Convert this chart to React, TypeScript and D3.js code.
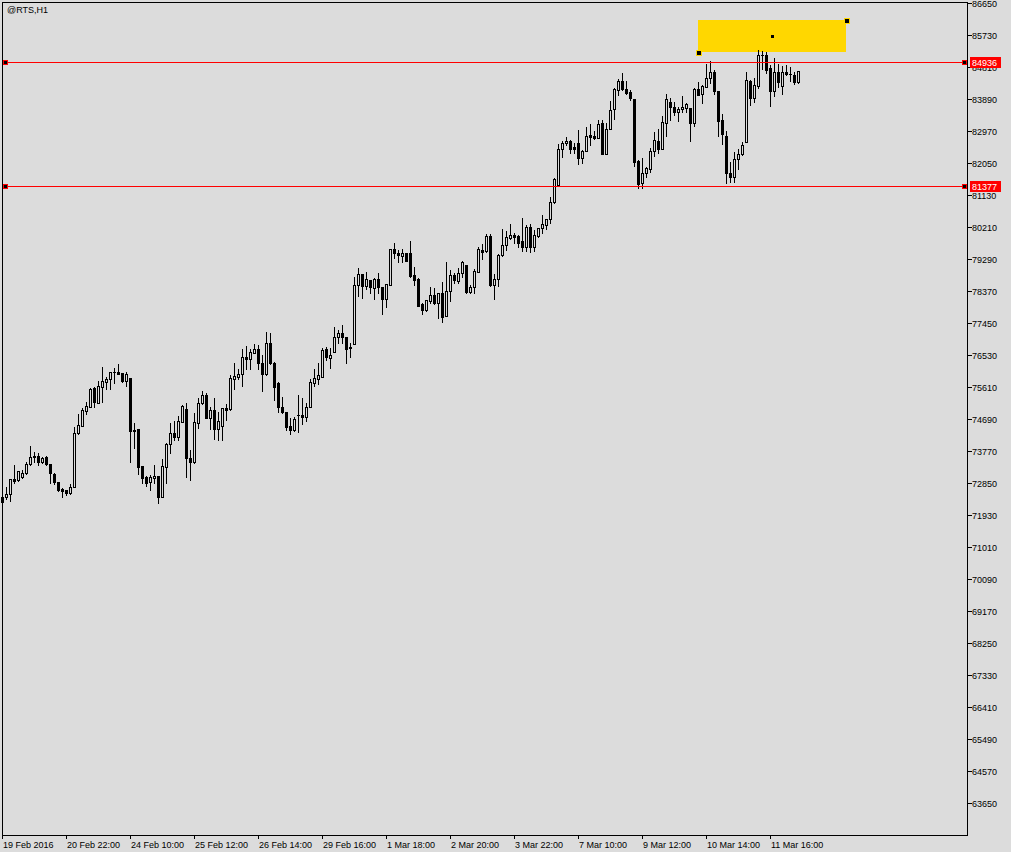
import React from "react";
import * as d3 from "d3";

const symbol = "@RTS,H1";

// hourly bars
const opens = [
  72447, 72447, 72534, 72965, 72936, 73022, 73137, 73396, 73626, 73626,
  73454, 73597, 73396, 73109, 72879, 72677, 72649, 72562, 72735, 74287,
  74489, 74920, 75035, 75581, 75150, 75610, 75754, 75840, 76041, 76041,
  76012, 75782, 75869, 74374, 74402, 73339, 73022, 72879, 72994, 73051,
  72447, 73310, 73971, 74287, 74172, 74604, 74977, 73569, 73454, 74575,
  75150, 75380, 74719, 74949, 74402, 74489, 75006, 74977, 75840, 75897,
  75984, 76472, 76415, 76587, 76702, 76300, 75984, 76875, 76300, 75725,
  75035, 74891, 74489, 74374, 74805, 74805, 74747, 75035, 75725, 75840,
  75897, 76702, 76444, 76616, 77048, 77162, 77048, 76760, 76846, 78542,
  78859, 78513, 78686, 78456, 78715, 78484, 78140, 78542, 79577, 79462,
  79376, 79462, 79462, 78830, 78715, 77996, 77824, 78082, 78255, 78025,
  78312, 77651, 78370, 78830, 78657, 78887, 79117, 78341, 78484, 78916,
  79549, 79520, 79951, 78542, 78715, 79405, 79692, 79894, 79980, 79951,
  79807, 79635, 80210, 79635, 79951, 80181, 80267, 80440, 80929, 81417,
  82452, 82625, 82682, 82510, 82625, 82193, 82395, 82855, 82826, 82768,
  83200, 82309, 83027, 83602, 84149, 84407, 84177, 84091, 83890, 82107,
  81475, 81762, 81877, 82395, 82682, 82452, 83200, 83804, 83660, 83516,
  83602, 83631, 83631, 83200, 84177, 84034, 84235, 84494, 84666, 84120,
  83286, 82826, 81762, 81647, 82165, 82309, 82654, 84407, 83919, 84264,
  85155, 85155, 84781, 84120, 84666, 84264, 84666, 84609, 84580, 84379,
];
const highs = [
  72505, 72735, 72965, 73367, 73195, 73224, 73454, 73914, 73741, 73712,
  73597, 73626, 73396, 73137, 72879, 72706, 72649, 72821, 74460, 74834,
  75006, 75179, 75581, 75610, 75782, 76185, 75897, 76041, 76156, 76271,
  76012, 76041, 75869, 74575, 74402, 73339, 73051, 73080, 73367, 73051,
  73540, 73999, 74575, 74632, 74776, 75092, 75150, 73799, 74862, 75294,
  75495, 75437, 75035, 75294, 74891, 75006, 75121, 75955, 76300, 76127,
  76702, 76789, 76702, 76846, 76817, 76530, 77191, 77162, 76329, 75754,
  75323, 74891, 74719, 74747, 75380, 75294, 75150, 75840, 76127, 76300,
  76731, 76760, 76731, 77335, 77249, 77392, 77048, 76875, 78772, 79031,
  78859, 78916, 78686, 78744, 78887, 78484, 78571, 79577, 79750, 79549,
  79577, 79462, 79807, 79060, 78744, 78025, 78111, 78484, 78456, 78312,
  78629, 79203, 78974, 78887, 79031, 79232, 79117, 78542, 79002, 79635,
  79721, 80008, 80008, 78859, 79433, 80152, 80095, 80296, 80037, 79980,
  80469, 80267, 80296, 80124, 80181, 80555, 80440, 81072, 81619, 82596,
  82682, 82797, 82711, 82625, 82999, 82424, 83085, 83171, 82970, 83286,
  83286, 83200, 83832, 84206, 84465, 84637, 84407, 84149, 83890, 82136,
  82193, 81935, 82481, 82941, 83027, 83401, 84034, 83919, 83804, 83660,
  83976, 83775, 83631, 84206, 84379, 84292, 84896, 84982, 84724, 84120,
  83459, 82970, 82079, 82366, 82452, 82654, 84666, 84436, 84494, 85299,
  85270, 85241, 84867, 85068, 84896, 84839, 84867, 84810, 84666, 84695,
];
const lows = [
  72246, 72390, 72332, 72850, 72907, 72994, 73109, 73367, 73454, 73367,
  73425, 73367, 72850, 72821, 72620, 72447, 72505, 72534, 72735, 74259,
  74489, 74834, 75035, 75035, 75150, 75179, 75552, 75552, 75725, 75984,
  75754, 75639, 73454, 73856, 73109, 72850, 72764, 72649, 72850, 72275,
  72447, 72850, 73712, 74086, 74086, 74604, 73022, 72936, 73425, 74431,
  75121, 74719, 74402, 74115, 74086, 74086, 74661, 74949, 75552, 75840,
  75639, 76127, 76127, 76587, 76127, 75495, 75955, 76271, 75236, 74891,
  74862, 74374, 74259, 74345, 74316, 74546, 74632, 75035, 75639, 75696,
  75897, 76386, 76156, 76616, 76875, 76875, 76300, 76472, 76846, 78226,
  78169, 78427, 78312, 78140, 78312, 77708, 77910, 78542, 79318, 79203,
  79203, 79232, 78772, 78542, 77939, 77708, 77795, 78025, 77996, 77594,
  77479, 77651, 78082, 78600, 78600, 78772, 78312, 78312, 78312, 78916,
  79290, 79491, 78513, 78140, 78513, 79376, 79549, 79865, 79750, 79635,
  79520, 79520, 79491, 79520, 79922, 80037, 80152, 80325, 80900, 81417,
  82222, 82567, 82337, 82337, 82021, 82050, 82395, 82567, 82740, 82768,
  82309, 82309, 83027, 83315, 84005, 84149, 84034, 83861, 81964, 81331,
  81331, 81647, 81791, 82251, 82337, 82452, 82826, 83286, 83430, 83257,
  83516, 83516, 82682, 83114, 84005, 83775, 84235, 84350, 84034, 82826,
  82596, 81475, 81504, 81504, 81877, 82280, 82654, 83717, 83804, 84206,
  84752, 84637, 83689, 83976, 84235, 84034, 84580, 84407, 84321, 84350,
];
const closes = [
  72304, 72534, 72965, 72907, 73195, 73137, 73396, 73597, 73597, 73454,
  73569, 73396, 73137, 72879, 72649, 72620, 72562, 72735, 74287, 74517,
  74949, 75064, 75552, 75179, 75639, 75782, 75840, 76041, 76041, 75984,
  75782, 75984, 74345, 74345, 73310, 72994, 72850, 73022, 73051, 72447,
  73339, 73971, 74287, 74172, 74632, 75064, 73569, 73454, 74604, 75150,
  75380, 74719, 74949, 74402, 74632, 75006, 74949, 75869, 75926, 75984,
  76472, 76415, 76616, 76702, 76300, 75984, 76875, 76300, 75610, 75035,
  74891, 74460, 74374, 74690, 74805, 74747, 75035, 75754, 75869, 75955,
  76674, 76472, 76530, 77048, 77162, 77048, 76702, 76731, 78542, 78859,
  78513, 78715, 78484, 78715, 78484, 78140, 78571, 79577, 79462, 79405,
  79462, 79232, 78801, 78686, 77939, 77824, 78111, 78255, 78025, 78312,
  77622, 78370, 78830, 78686, 78887, 79203, 78341, 78484, 78945, 79577,
  79491, 79951, 78542, 78715, 79405, 79692, 79922, 79980, 79922, 79750,
  79635, 80210, 79635, 79980, 80181, 80296, 80440, 80929, 81590, 82452,
  82625, 82682, 82452, 82452, 82193, 82395, 82826, 82797, 82768, 83171,
  82309, 83027, 83574, 84177, 84407, 84177, 84062, 83919, 82079, 81446,
  81762, 81906, 82395, 82711, 82452, 83229, 83890, 83660, 83516, 83602,
  83660, 83746, 83200, 84177, 84005, 84264, 84494, 84666, 84120, 83257,
  82884, 81762, 81647, 82165, 82309, 82567, 84436, 83919, 84292, 85155,
  85155, 84724, 84120, 84666, 84379, 84666, 84609, 84609, 84379, 84695,
];

const timeLabels = [
  "19 Feb 2016", "20 Feb 22:00", "24 Feb 10:00", "25 Feb 12:00", "26 Feb 14:00",
  "29 Feb 16:00", "1 Mar 18:00", "2 Mar 20:00", "3 Mar 22:00", "7 Mar 10:00",
  "9 Mar 12:00", "10 Mar 14:00", "11 Mar 16:00",
];
const timeLabelBars = [0, 16, 32, 48, 64, 80, 96, 112, 128, 144, 160, 176, 192];

const priceTicks = [
  86650, 85730, 84810, 83890, 82970, 82050, 81130, 80210, 79290, 78370,
  77450, 76530, 75610, 74690, 73770, 72850, 71930, 71010, 70090, 69170,
  68250, 67330, 66410, 65490, 64570, 63650,
];

const levelLines = [84936, 81377];
// rectangle object: bar index span and price span
const zoneBars = [174, 211];
const zonePrices = [86160, 85240];

const BG = "#dcdcdc";
const FONT = "'Liberation Sans', Arial, sans-serif";

export default function App() {
  const width = 1011;
  const height = 852;
  const left = 2;
  const right = 967;
  const top = 2;
  const bottom = 835;

  const x = d3.scaleLinear().domain([0, 241]).range([2, 966]);
  const y = d3.scaleLinear().domain([62730, 86650]).range([bottom, 3]);
  const py = (v: number) => Math.round(y(v));

  const bars = opens.map((o, i) => {
    const c = closes[i];
    const cx = Math.round(x(i));
    const yTop = py(Math.max(o, c));
    const yBot = py(Math.min(o, c));
    return {
      i,
      cx,
      yHigh: py(highs[i]),
      yLow: py(lows[i]),
      yTop,
      yBot,
      bull: c > o,
      doji: yTop === yBot,
    };
  });

  const zx0 = Math.round(x(zoneBars[0]));
  const zx1 = Math.round(x(zoneBars[1]));
  const zy0 = py(zonePrices[0]);
  const zy1 = py(zonePrices[1]);

  return (
    <svg
      width={width}
      height={height}
      style={{ position: "absolute", left: 0, top: 0, display: "block" }}
      fontFamily={FONT}
      fontSize={9}
    >
      <rect x={0} y={0} width={width} height={height} fill={BG} />

      {/* rectangle object */}
      <rect x={zx0} y={zy0} width={zx1 - zx0} height={zy1 - zy0} fill="#ffd700" shapeRendering="crispEdges" />

      {/* candles */}
      <g shapeRendering="crispEdges">
        {bars.map((b) => (
          <g key={b.i}>
            <line x1={b.cx + 0.5} x2={b.cx + 0.5} y1={b.yHigh} y2={b.yLow + 1} stroke="#000" />
            {b.doji ? (
              <line x1={b.cx - 1} x2={b.cx + 2} y1={b.yTop + 0.5} y2={b.yTop + 0.5} stroke="#000" />
            ) : (
              <rect
                x={b.cx - 0.5}
                y={b.yTop + 0.5}
                width={2}
                height={b.yBot - b.yTop}
                fill={b.bull ? BG : "#000"}
                stroke="#000"
              />
            )}
          </g>
        ))}
      </g>

      {/* zone anchor points */}
      <g shapeRendering="crispEdges">
        <rect x={zx0 - 2} y={zy1 - 2} width={5} height={5} fill="#000" stroke="#ffd700" />
        <rect x={zx1 - 2} y={zy0 - 2} width={5} height={5} fill="#000" stroke="#ffd700" />
        <rect x={Math.round((zx0 + zx1) / 2) - 1} y={Math.round((zy0 + zy1) / 2) - 1} width={3} height={3} fill="#000" />
      </g>

      {/* frame */}
      <g shapeRendering="crispEdges" stroke="#000" fill="none">
        <line x1={left + 0.5} x2={left + 0.5} y1={top} y2={bottom + 1} />
        <line x1={left} x2={right + 1} y1={top + 0.5} y2={top + 0.5} />
        <line x1={right + 0.5} x2={right + 0.5} y1={top} y2={bottom + 1} />
        <line x1={left} x2={right + 1} y1={bottom + 0.5} y2={bottom + 0.5} />
      </g>

      {/* horizontal levels */}
      {levelLines.map((v) => {
        const ly = Math.floor(y(v));
        return (
          <g key={`line-${v}`} shapeRendering="crispEdges">
            <rect x={3} y={ly} width={964} height={1} fill="#ff0000" />
            <rect x={3.5} y={ly - 1.5} width={4} height={4} fill="#000" stroke="#ff0000" />
            <rect x={962.5} y={ly - 1.5} width={4} height={4} fill="#000" stroke="#ff0000" />
          </g>
        );
      })}

      {/* price axis */}
      {priceTicks.map((v) => {
        const ty = py(v);
        return (
          <g key={`tick-${v}`}>
            <line x1={right + 1} x2={right + 5} y1={ty + 0.5} y2={ty + 0.5} stroke="#000" shapeRendering="crispEdges" />
            <text x={972} y={ty + 4} fill="#000">
              {v}
            </text>
          </g>
        );
      })}

      {/* level price labels */}
      {levelLines.map((v) => {
        const ly = Math.floor(y(v));
        return (
          <g key={`lbl-${v}`}>
            <rect x={970} y={ly - 5} width={31} height={11} fill="#ff0000" shapeRendering="crispEdges" />
            <text x={972} y={ly + 4} fill="#fff">
              {v}
            </text>
          </g>
        );
      })}

      {/* time axis */}
      {timeLabels.map((t, k) => {
        const tx = Math.round(x(timeLabelBars[k]));
        return (
          <g key={t}>
            <line x1={tx + 0.5} x2={tx + 0.5} y1={bottom + 1} y2={bottom + 4} stroke="#000" shapeRendering="crispEdges" />
            <text x={tx + 1} y={847.5} fill="#000">
              {t}
            </text>
          </g>
        );
      })}

      <text x={7} y={13} fill="#000">
        {symbol}
      </text>
    </svg>
  );
}
